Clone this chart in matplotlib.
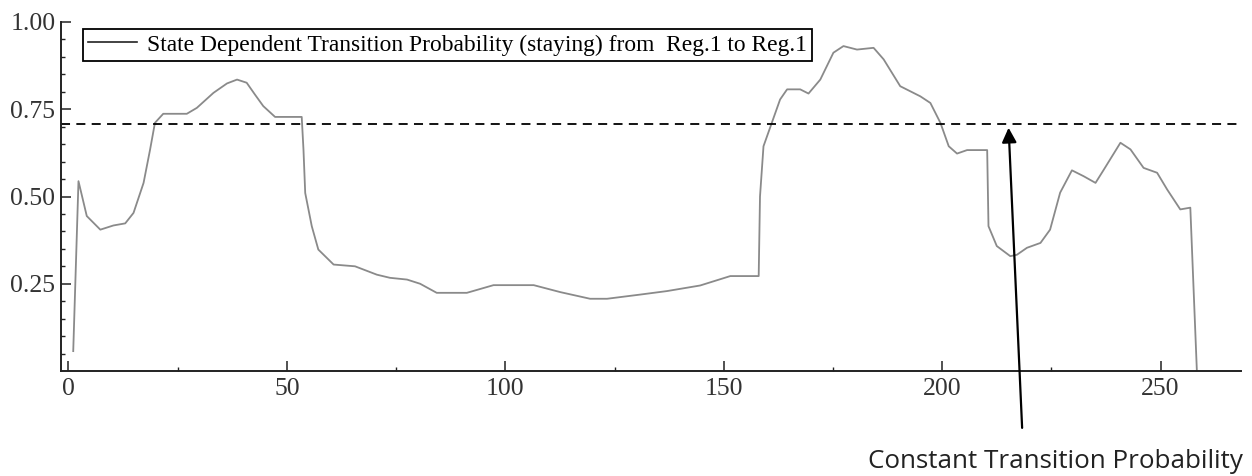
import matplotlib
matplotlib.use('Agg')
import matplotlib.pyplot as plt
from matplotlib.lines import Line2D
from matplotlib.ticker import FixedLocator

x_vals = [1.1, 2.3, 4.2, 7.3, 10.3, 13.0, 14.9, 17.2, 18.7, 19.8, 21.7, 27.1, 29.4,
          33.2, 36.3, 38.6, 40.8, 42.7, 44.6, 47.3, 53.4, 53.8, 54.2, 55.7, 57.2,
          60.7, 65.6, 70.6, 73.6, 77.5, 80.5, 84.3, 91.2, 97.3, 106.5, 112.6, 119.4,
          123.3, 130.9, 137.0, 144.6, 151.5, 158.0, 158.3, 159.1, 161.0, 162.9, 164.5,
          167.5, 169.4, 172.1, 175.1, 177.4, 180.5, 184.3, 186.6, 190.4, 195.0, 197.3,
          199.6, 201.5, 203.4, 205.7, 210.3, 210.6, 212.5, 215.6, 217.1, 219.4, 222.5,
          224.7, 227.0, 229.7, 232.4, 235.1, 237.0, 240.8, 243.1, 246.1, 249.2, 251.5,
          254.5, 256.8, 258.3]
prob_vals = [0.057, 0.544, 0.444, 0.405, 0.417, 0.423, 0.453, 0.539, 0.635, 0.711, 0.737,
             0.737, 0.754, 0.797, 0.824, 0.835, 0.826, 0.792, 0.759, 0.728, 0.728, 0.635,
             0.51, 0.415, 0.348, 0.305, 0.300, 0.276, 0.267, 0.262, 0.250, 0.224, 0.224,
             0.246, 0.246, 0.226, 0.207, 0.207, 0.219, 0.229, 0.245, 0.272, 0.272, 0.50,
             0.644, 0.711, 0.778, 0.807, 0.807, 0.795, 0.835, 0.912, 0.931, 0.921, 0.926,
             0.893, 0.816, 0.787, 0.768, 0.711, 0.644, 0.623, 0.633, 0.633, 0.415, 0.358,
             0.329, 0.333, 0.353, 0.367, 0.405, 0.511, 0.575, 0.558, 0.539, 0.577, 0.654,
             0.635, 0.582, 0.568, 0.520, 0.463, 0.468, 0.0]
constant_prob = 0.708

legend_label = 'State Dependent Transition Probability (staying) from  Reg.1 to Reg.1'
note_text = 'Constant Transition Probability'

fig = plt.figure(figsize=(12.52, 4.76), dpi=100)
ax = fig.add_axes([61 / 1252, 105 / 476, 1180 / 1252, 349 / 476])

ax.plot(x_vals, prob_vals, color='#8a8a8a', linewidth=1.3)
ax.axhline(constant_prob, color='black', linewidth=1.3, linestyle=(0, (5, 3.5)))

ax.set_xlim(-1.7, 268.4)
ax.set_ylim(0, 1.0)

for side in ['top', 'right']:
    ax.spines[side].set_visible(False)
for side in ['left', 'bottom']:
    ax.spines[side].set_linewidth(1.4)
    ax.spines[side].set_color('#222222')

ax.xaxis.set_major_locator(FixedLocator([0, 50, 100, 150, 200, 250]))
ax.xaxis.set_minor_locator(FixedLocator([25, 75, 125, 175, 225]))
ax.yaxis.set_major_locator(FixedLocator([0.25, 0.5, 0.75, 1.0]))
ax.yaxis.set_minor_locator(FixedLocator([0.05, 0.1, 0.15, 0.2, 0.3, 0.35, 0.4, 0.45,
                                         0.55, 0.6, 0.65, 0.7, 0.8, 0.85, 0.9, 0.95]))
ax.set_yticklabels(['0.25', '0.50', '0.75', '1.00'])

ax.tick_params(which='major', direction='in', length=7, width=1.1, color='#222222',
               labelsize=18.5, labelcolor='#333333')
ax.tick_params(axis='x', which='major', pad=5)
ax.tick_params(axis='y', which='major', pad=4)
ax.tick_params(which='minor', direction='in', length=3, width=1.0, color='#222222')
for lab in ax.get_xticklabels() + ax.get_yticklabels():
    lab.set_family('Liberation Serif')

handle = Line2D([], [], color='#222222', linewidth=1.2)
leg = ax.legend([handle], [legend_label], loc='upper left',
                bbox_to_anchor=(0.0186, 0.98), borderaxespad=0,
                prop={'family': 'Liberation Serif', 'size': 16.9},
                fancybox=False, framealpha=1, edgecolor='black',
                handlelength=2.1, borderpad=0.22, handletextpad=0.4)
leg.get_frame().set_linewidth(1.3)

ax.annotate('', xy=(215.2, 0.697), xytext=(218.3, -0.163), xycoords='data',
            annotation_clip=False,
            arrowprops=dict(arrowstyle='-|>', color='black', lw=1.6,
                            mutation_scale=22, shrinkA=0, shrinkB=0))
fig.text(868 / 1252, 8 / 476, note_text, ha='left', va='baseline',
         fontsize=18.7, family='Open Sans', color='#222222')

plt.savefig('out.png', dpi=100)
